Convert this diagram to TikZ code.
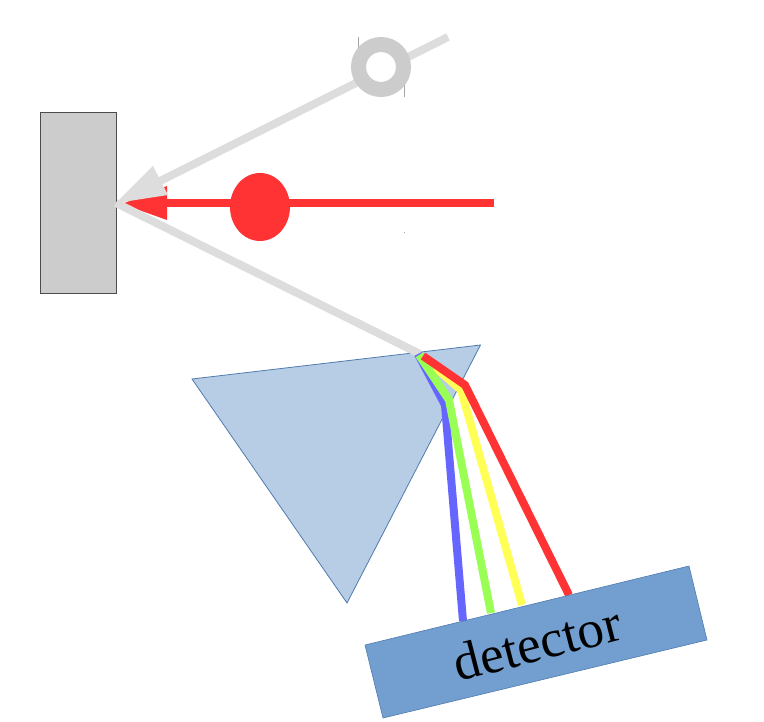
\documentclass[tikz,border=0pt]{standalone}
\usepackage{fontspec}
\setmainfont{Liberation Serif}
\definecolor{beamgrey}{HTML}{DDDDDD}
\definecolor{ringgrey}{HTML}{CCCCCC}
\definecolor{beamred}{HTML}{FF3333}
\definecolor{beamblue}{HTML}{6666FF}
\definecolor{beamgreen}{HTML}{99FF55}
\definecolor{beamyellow}{HTML}{FFFF55}
\definecolor{prismfill}{HTML}{B7CDE6}
\definecolor{detfill}{HTML}{729FCF}
\definecolor{edgeblue}{HTML}{4F7BAE}
\tikzset{
  ray/.style={line width=#1, line join=miter, line cap=butt},
  ray/.default={8pt},
  artefact/.style={draw=black!35, line width=0.3pt}
}
\begin{document}
\begin{tikzpicture}[x=1pt,y=-1pt]
\useasboundingbox (0,0) rectangle (764,722);
% sample holder
\draw[fill=ringgrey, draw=black!70, line width=0.6pt] (40.5,112) rectangle (116.5,293.5);
% prism
\draw[fill=prismfill, draw=edgeblue, line width=0.8pt] (192,379) -- (480.5,345) -- (347,603) -- cycle;
% incident red beam
\coordinate (redstart) at (494,203);
\coordinate (redbase) at (167,203);
\draw[ray=7.5pt, beamred] (redstart) -- (redbase);
\fill[beamred] (122,204) -- (167,186) -- (167,220) -- cycle;
\fill[beamred] (260,207) ellipse [x radius=30, y radius=34];
% grey beams
\coordinate (spot) at (116,203);
\coordinate (ringend) at (448,37);
\coordinate (fan) at (420,354);
\draw[ray=8pt, beamgrey] (ringend) -- (160,181);
\fill[beamgrey] (spot) -- (153,166) -- (168,195) -- cycle;
\draw[ray=8pt, beamgrey] (spot) -- (fan);
% ring
\draw[artefact] (358.5,37) -- (358.5,50) (404.5,84) -- (404.5,97);
\draw[ringgrey, fill=white, line width=15pt] (381,67) circle [radius=22.5];
\draw[artefact] (404,232) -- (404,233);
% dispersed beams
\draw[ray, beamblue] (418,354) -- (445,405) -- (463,621);
\draw[ray, beamyellow] (428,361) -- (461,390) -- (522,605);
\draw[ray, beamgreen] (419,355) -- (449,400) -- (491,613);
\draw[ray, beamred] (423,356) -- (465,385) -- (569,595);
% detector
\draw[fill=detfill, draw=edgeblue, line width=0.6pt] (365,645) -- (689,566) -- (707,640) -- (383,718) -- cycle;
\node[rotate=14.5, font=\fontsize{53}{60}\selectfont, inner sep=0pt] (det) at (537,643) {detector};
\end{tikzpicture}
\end{document}
